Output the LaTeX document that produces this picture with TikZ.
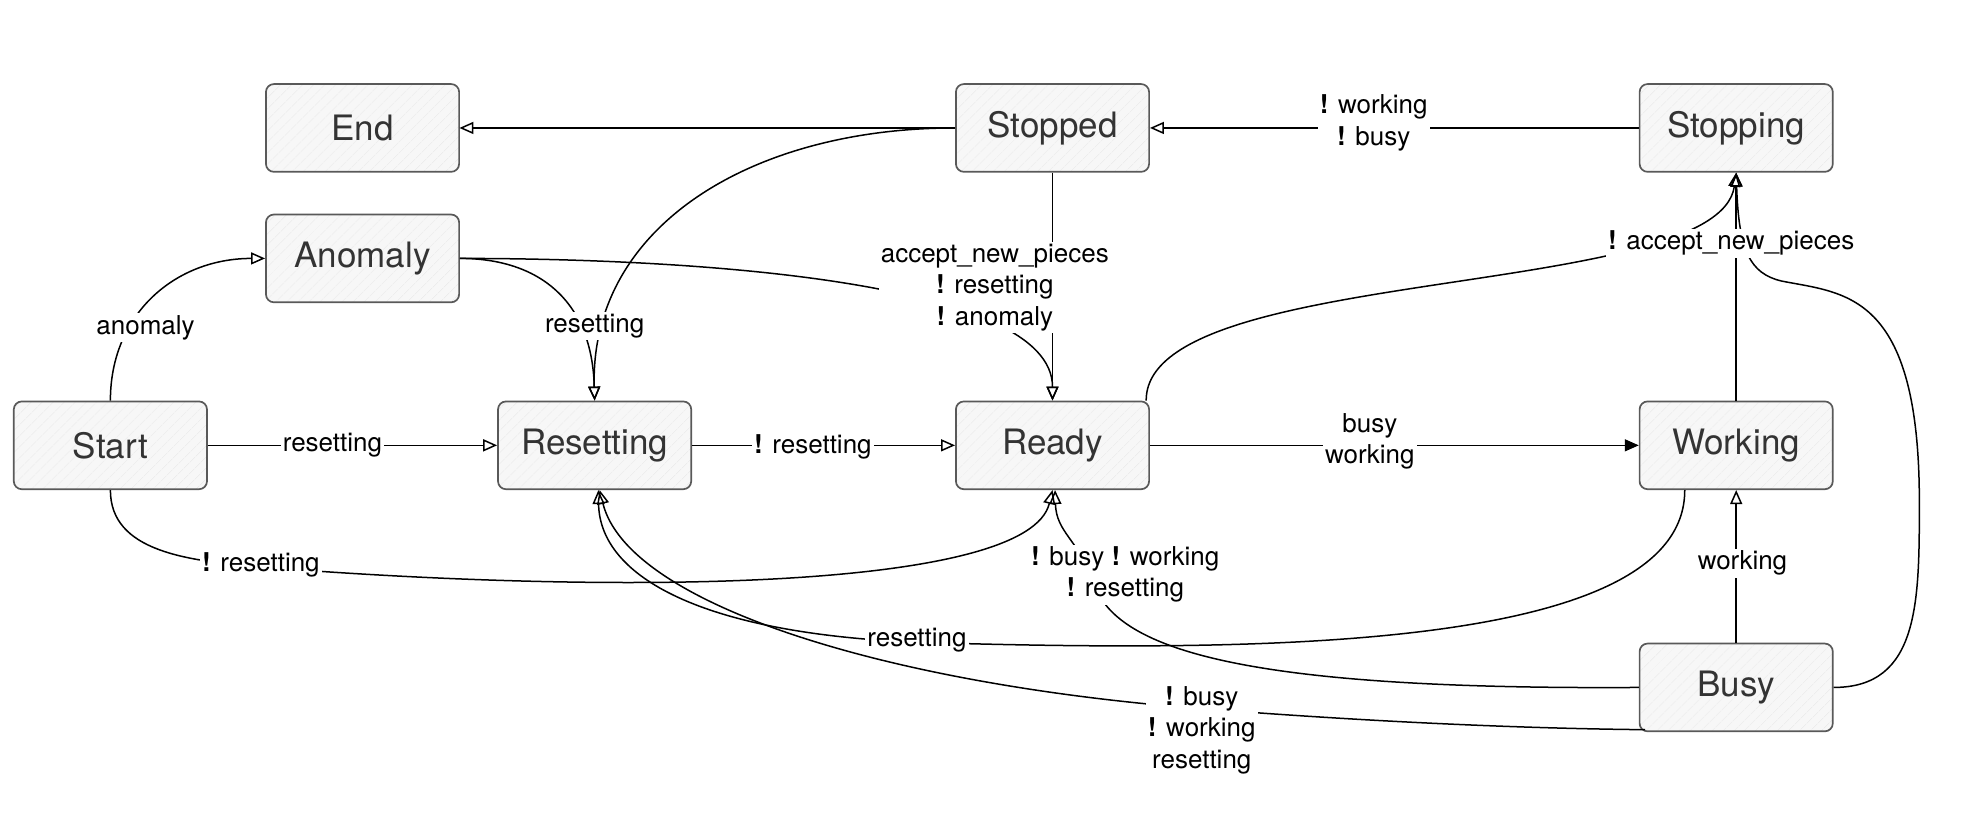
\documentclass[tikz,border=0pt]{standalone}
\usepackage{fontspec}
\setmainfont{TeX Gyre Heros}
\usetikzlibrary{arrows.meta,patterns.meta,calc}
\begin{document}
\begin{tikzpicture}[x=0.62725pt,y=-0.62725pt,
  state/.style={draw=black!65, line width=0.85pt, rounded corners=4pt,
    minimum width=96.6pt, minimum height=43.9pt, inner sep=0pt,
    font=\fontsize{17.5}{21}\selectfont, text=black!80,
    preaction={fill=black!3},
    pattern={Lines[angle=45,distance=4pt,line width=0.3pt]}, pattern color=black!10},
  lbl/.style={fill=white, inner sep=1pt, font=\fontsize{13}{15.7}\selectfont, align=center},
  tr/.style={draw, line width=0.75pt, -{Triangle[open,length=7pt,width=6pt]}},
  trf/.style={draw, line width=0.75pt, -{Triangle[length=7pt,width=6pt]}},
]
\useasboundingbox (0,0) rectangle (1568,654);

% states
\node[state] (End)       at (289,102)  {End};
\node[state] (Stopped)   at (839,102)  {Stopped};
\node[state] (Stopping)  at (1384,102) {Stopping};
\node[state] (Anomaly)   at (289,206)  {Anomaly};
\node[state] (Start)     at (88,355)   {Start};
\node[state] (Resetting) at (474,355)  {Resetting};
\node[state] (Ready)     at (839,355)  {Ready};
\node[state] (Working)   at (1384,355) {Working};
\node[state] (Busy)      at (1384,548) {Busy};

% transitions
\draw[tr] (Start.north) .. controls (88,250) and (140,206) .. (Anomaly.west);
\draw[tr] (Start.east) -- (Resetting.west);
\draw[tr] (Start.south) .. controls (88,440) and (150,447) .. (208,452)
          .. controls (500,475) and (820,470) .. (Ready.south);
\draw[tr] (Anomaly.east) .. controls (430,206) and (472,240) .. (Resetting.north);
\draw[tr] (Anomaly.east) .. controls (560,206) and (839,225) .. (Ready.north);
\draw[tr] (Stopped.west) -- (End.east);
\draw[tr] (Stopped.west) .. controls (600,102) and (470,180) .. (Resetting.north);
\draw[tr] (Stopped.south) -- (Ready.north);
\draw[tr] (Stopping.west) -- (Stopped.east);
\draw[tr] ($(Ready.north east)+(-3,0)$) .. controls (913,210) and (1370,240) .. (Stopping.south);
\draw[tr] (Working.north) -- (Stopping.south);
\draw[tr] (Busy.east) .. controls (1530,548) and (1530,480) .. (1530,400)
          .. controls (1530,232) and (1470,234) .. (1420,224)
          .. controls (1395,218) and (1386,200) .. (Stopping.south);
\draw[trf] (Ready.east) -- (Working.west);
\draw[tr] (Resetting.east) -- (Ready.west);
\draw[tr] (Busy.north) -- (Working.south);
\draw[tr] ($(Working.south)+(-41,0)$) .. controls (1343,520) and (1000,520) .. (731,512)
          .. controls (560,505) and (478,460) .. ($(Resetting.south)+(3,0)$);
\draw[tr] ($(Busy.south west)+(5,-2)$) .. controls (1150,580) and (1000,568) .. (958,565)
          .. controls (700,545) and (500,480) .. ($(Resetting.south)+(4,0)$);
\draw[tr] (Busy.west) .. controls (1000,550) and (890,520) .. (872,465)
          .. controls (860,430) and (842,425) .. ($(Ready.south)+(2,0)$);

% labels
\node[lbl] (l1)  at (116,261)  {anomaly};
\node[lbl] (l2)  at (265,355)  {resetting};
\node[lbl] (l3)  at (208,450)  {\textbf{!} resetting};
\node[lbl] (l4)  at (474,260)  {resetting};
\node[lbl] (l5)  at (793,229)  {accept\_new\_pieces\\\textbf{!} resetting\\\textbf{!} anomaly};
\node[lbl] (l6)  at (1095,98)  {\textbf{!} working\\\textbf{!} busy};
\node[lbl] (l7)  at (1380,194) {\textbf{!} accept\_new\_pieces};
\node[lbl] (l8)  at (648,356)  {\textbf{!} resetting};
\node[lbl] (l9)  at (1092,352) {busy\\working};
\node[lbl] (l10) at (897,458)  {\textbf{!} busy \textbf{!} working\\\textbf{!} resetting};
\node[lbl] (l11) at (1389,449) {working};
\node[lbl] (l12) at (731,510)  {resetting};
\node[lbl] (l13) at (958,582)  {\textbf{!} busy\\\textbf{!} working\\resetting};
\end{tikzpicture}
\end{document}
